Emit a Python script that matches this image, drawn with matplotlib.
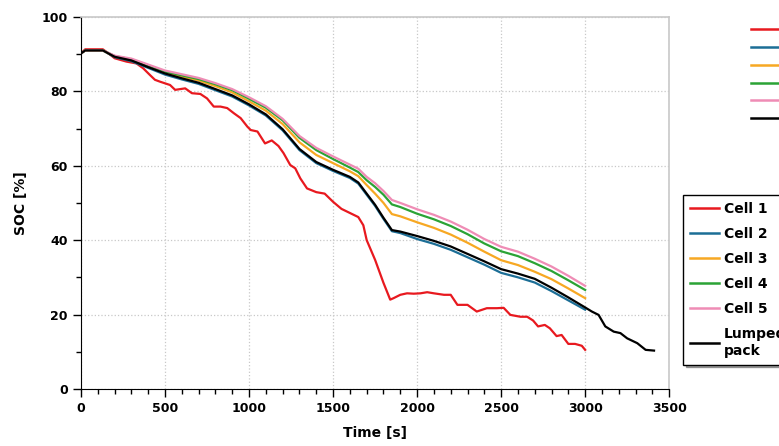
import matplotlib.pyplot as plt
from matplotlib.ticker import MultipleLocator

# time grid shared by cells 2-5 [s]
t_cells = [0, 25, 130, 200, 300, 400, 500, 600, 700, 800, 900, 1000, 1100, 1200, 1300,
           1400, 1500, 1600, 1650, 1700, 1750, 1800, 1850, 1900, 2000, 2100, 2200, 2300,
           2400, 2500, 2600, 2700, 2800, 2900, 3000]

cell2 = [90.2, 91.0, 91.0, 89.2, 88.1, 86.3, 84.5, 83.2, 82.0, 80.3, 78.6, 76.2, 73.5, 69.5,
         64.2, 60.7, 58.6, 56.7, 55.2, 52.2, 49.2, 45.7, 42.4, 41.9, 40.3, 39.0, 37.4, 35.4,
         33.4, 31.2, 30.0, 28.6, 26.3, 23.8, 21.3]
cell3 = [90.2, 91.0, 91.0, 89.4, 88.5, 86.8, 85.1, 84.0, 82.9, 81.4, 79.7, 77.3, 74.8, 71.2,
         66.3, 62.9, 60.7, 58.5, 57.2, 54.8, 52.5, 50.0, 47.0, 46.4, 44.8, 43.3, 41.5, 39.3,
         36.9, 34.6, 33.3, 31.5, 29.5, 27.0, 24.4]
cell4 = [90.2, 91.0, 91.0, 89.5, 88.6, 87.0, 85.3, 84.3, 83.3, 81.9, 80.3, 78.0, 75.6, 72.2,
         67.5, 64.2, 61.8, 59.5, 58.3, 56.1, 54.3, 52.2, 49.6, 48.9, 47.1, 45.6, 43.8, 41.6,
         39.1, 37.0, 35.7, 33.8, 31.7, 29.2, 26.6]
cell5 = [90.2, 91.0, 91.0, 89.6, 88.8, 87.2, 85.6, 84.6, 83.6, 82.2, 80.6, 78.4, 76.0, 72.6,
         68.0, 64.8, 62.5, 60.3, 59.2, 57.0, 55.3, 53.2, 50.8, 50.0, 48.3, 46.8, 45.0, 42.8,
         40.3, 38.2, 36.9, 35.0, 32.9, 30.4, 27.7]

# cell 1
t_cell1 = [0, 25, 130, 175, 200, 270, 330, 370, 410, 440, 470, 530, 560, 620, 660, 710, 750,
           790, 830, 870, 910, 950, 990, 1010, 1050, 1095, 1135, 1175, 1205, 1245, 1275, 1305,
           1345, 1400, 1450, 1500, 1550, 1600, 1650, 1680, 1700, 1750, 1800, 1840, 1860, 1900,
           1940, 1980, 2020, 2060, 2100, 2160, 2200, 2240, 2300, 2355, 2415, 2475, 2515, 2555,
           2615, 2655, 2690, 2720, 2760, 2790, 2830, 2860, 2900, 2940, 2980, 3000]
cell1 = [90.2, 91.3, 91.3, 89.8, 88.9, 88.0, 87.5, 86.2, 84.4, 83.1, 82.6, 81.7, 80.4, 80.8,
         79.5, 79.3, 78.1, 75.9, 75.9, 75.5, 74.1, 72.8, 70.5, 69.6, 69.2, 66.0, 66.8, 65.3,
         63.4, 60.2, 59.3, 56.6, 53.9, 52.9, 52.5, 50.3, 48.4, 47.3, 46.2, 44.0, 40.0, 34.7,
         28.5, 24.0, 24.4, 25.3, 25.7, 25.6, 25.7, 26.0, 25.7, 25.3, 25.3, 22.6, 22.6, 20.8,
         21.7, 21.7, 21.8, 19.9, 19.4, 19.4, 18.4, 16.8, 17.2, 16.3, 14.2, 14.5, 12.1, 12.1,
         11.6, 10.5]

# lumped pack
t_pack = t_cells + [3040, 3080, 3120, 3170, 3210, 3250, 3310, 3360, 3410]
pack = [90.2, 91.0, 91.0, 89.3, 88.3, 86.5, 84.8, 83.5, 82.3, 80.6, 78.9, 76.5, 73.8, 69.8,
        64.5, 61.0, 58.9, 57.0, 55.5, 52.5, 49.5, 46.0, 42.7, 42.3, 41.1, 39.8, 38.3, 36.3,
        34.3, 32.2, 31.0, 29.6, 27.2, 24.6, 21.9,
        20.8, 19.9, 16.8, 15.4, 15.0, 13.6, 12.3, 10.5, 10.3]

labels = ['Cell 1', 'Cell 2', 'Cell 3', 'Cell 4', 'Cell 5', 'Lumped\npack']
colors = ['#e8191f', '#1c6e96', '#f7a823', '#2ba335', '#ef8cb5', 'black']

plt.rcParams['font.family'] = 'DejaVu Sans'
plt.rcParams['font.weight'] = 'bold'

fig = plt.figure(figsize=(7.79, 4.46), dpi=100)
ax = fig.add_axes([0.104, 0.128, 0.755, 0.834])

series = [(t_cell1, cell1), (t_cells, cell2), (t_cells, cell3), (t_cells, cell4),
          (t_cells, cell5), (t_pack, pack)]
lines = []
for (tt, yy), c, lab in zip(series, colors, labels):
    l, = ax.plot(tt, yy, color=c, lw=1.6, label=lab)
    lines.append(l)

ax.set_xlim(0, 3500)
ax.set_ylim(0, 100)
ax.xaxis.set_major_locator(MultipleLocator(500))
ax.xaxis.set_minor_locator(MultipleLocator(100))
ax.yaxis.set_major_locator(MultipleLocator(20))
ax.yaxis.set_minor_locator(MultipleLocator(10))
ax.tick_params(which='major', direction='out', length=6, width=1, labelsize=9)
ax.tick_params(which='minor', direction='out', length=3.5, width=1)
for lab in ax.get_xticklabels() + ax.get_yticklabels():
    lab.set_fontweight('bold')

ax.grid(True, which='major', linestyle=':', color='#c8c8c8', lw=0.9)
ax.spines['top'].set_color('#c8c8c8')
ax.spines['right'].set_color('#c8c8c8')
ax.spines['top'].set_linewidth(1.2)
ax.spines['right'].set_linewidth(1.2)

ax.set_xlabel('Time [s]', fontsize=10, fontweight='bold', labelpad=8)
ax.set_ylabel('SOC [%]', fontsize=10, fontweight='bold', labelpad=10)

# legend clipped at the top right (labels fall outside the figure)
leg1 = fig.legend(lines, labels[:5] + ['Lumped pack'], loc='upper left',
                  bbox_to_anchor=(0.948, 0.977), frameon=False, fontsize=10,
                  labelspacing=0.28, handlelength=4.0)
# boxed legend on the right
leg2 = fig.legend(lines, labels, loc='upper left', bbox_to_anchor=(0.877, 0.563),
                  frameon=True, fancybox=False, shadow=True, fontsize=10,
                  labelspacing=0.8, handlelength=2.1, handletextpad=0.35,
                  borderaxespad=0, borderpad=0.5)
leg2.get_frame().set_edgecolor('black')
leg2.get_frame().set_linewidth(1.0)
for t in leg2.get_texts():
    t.set_fontweight('bold')
for h in leg2.get_lines() + leg1.get_lines():
    h.set_linewidth(1.8)

fig.savefig('out.png', dpi=100)
